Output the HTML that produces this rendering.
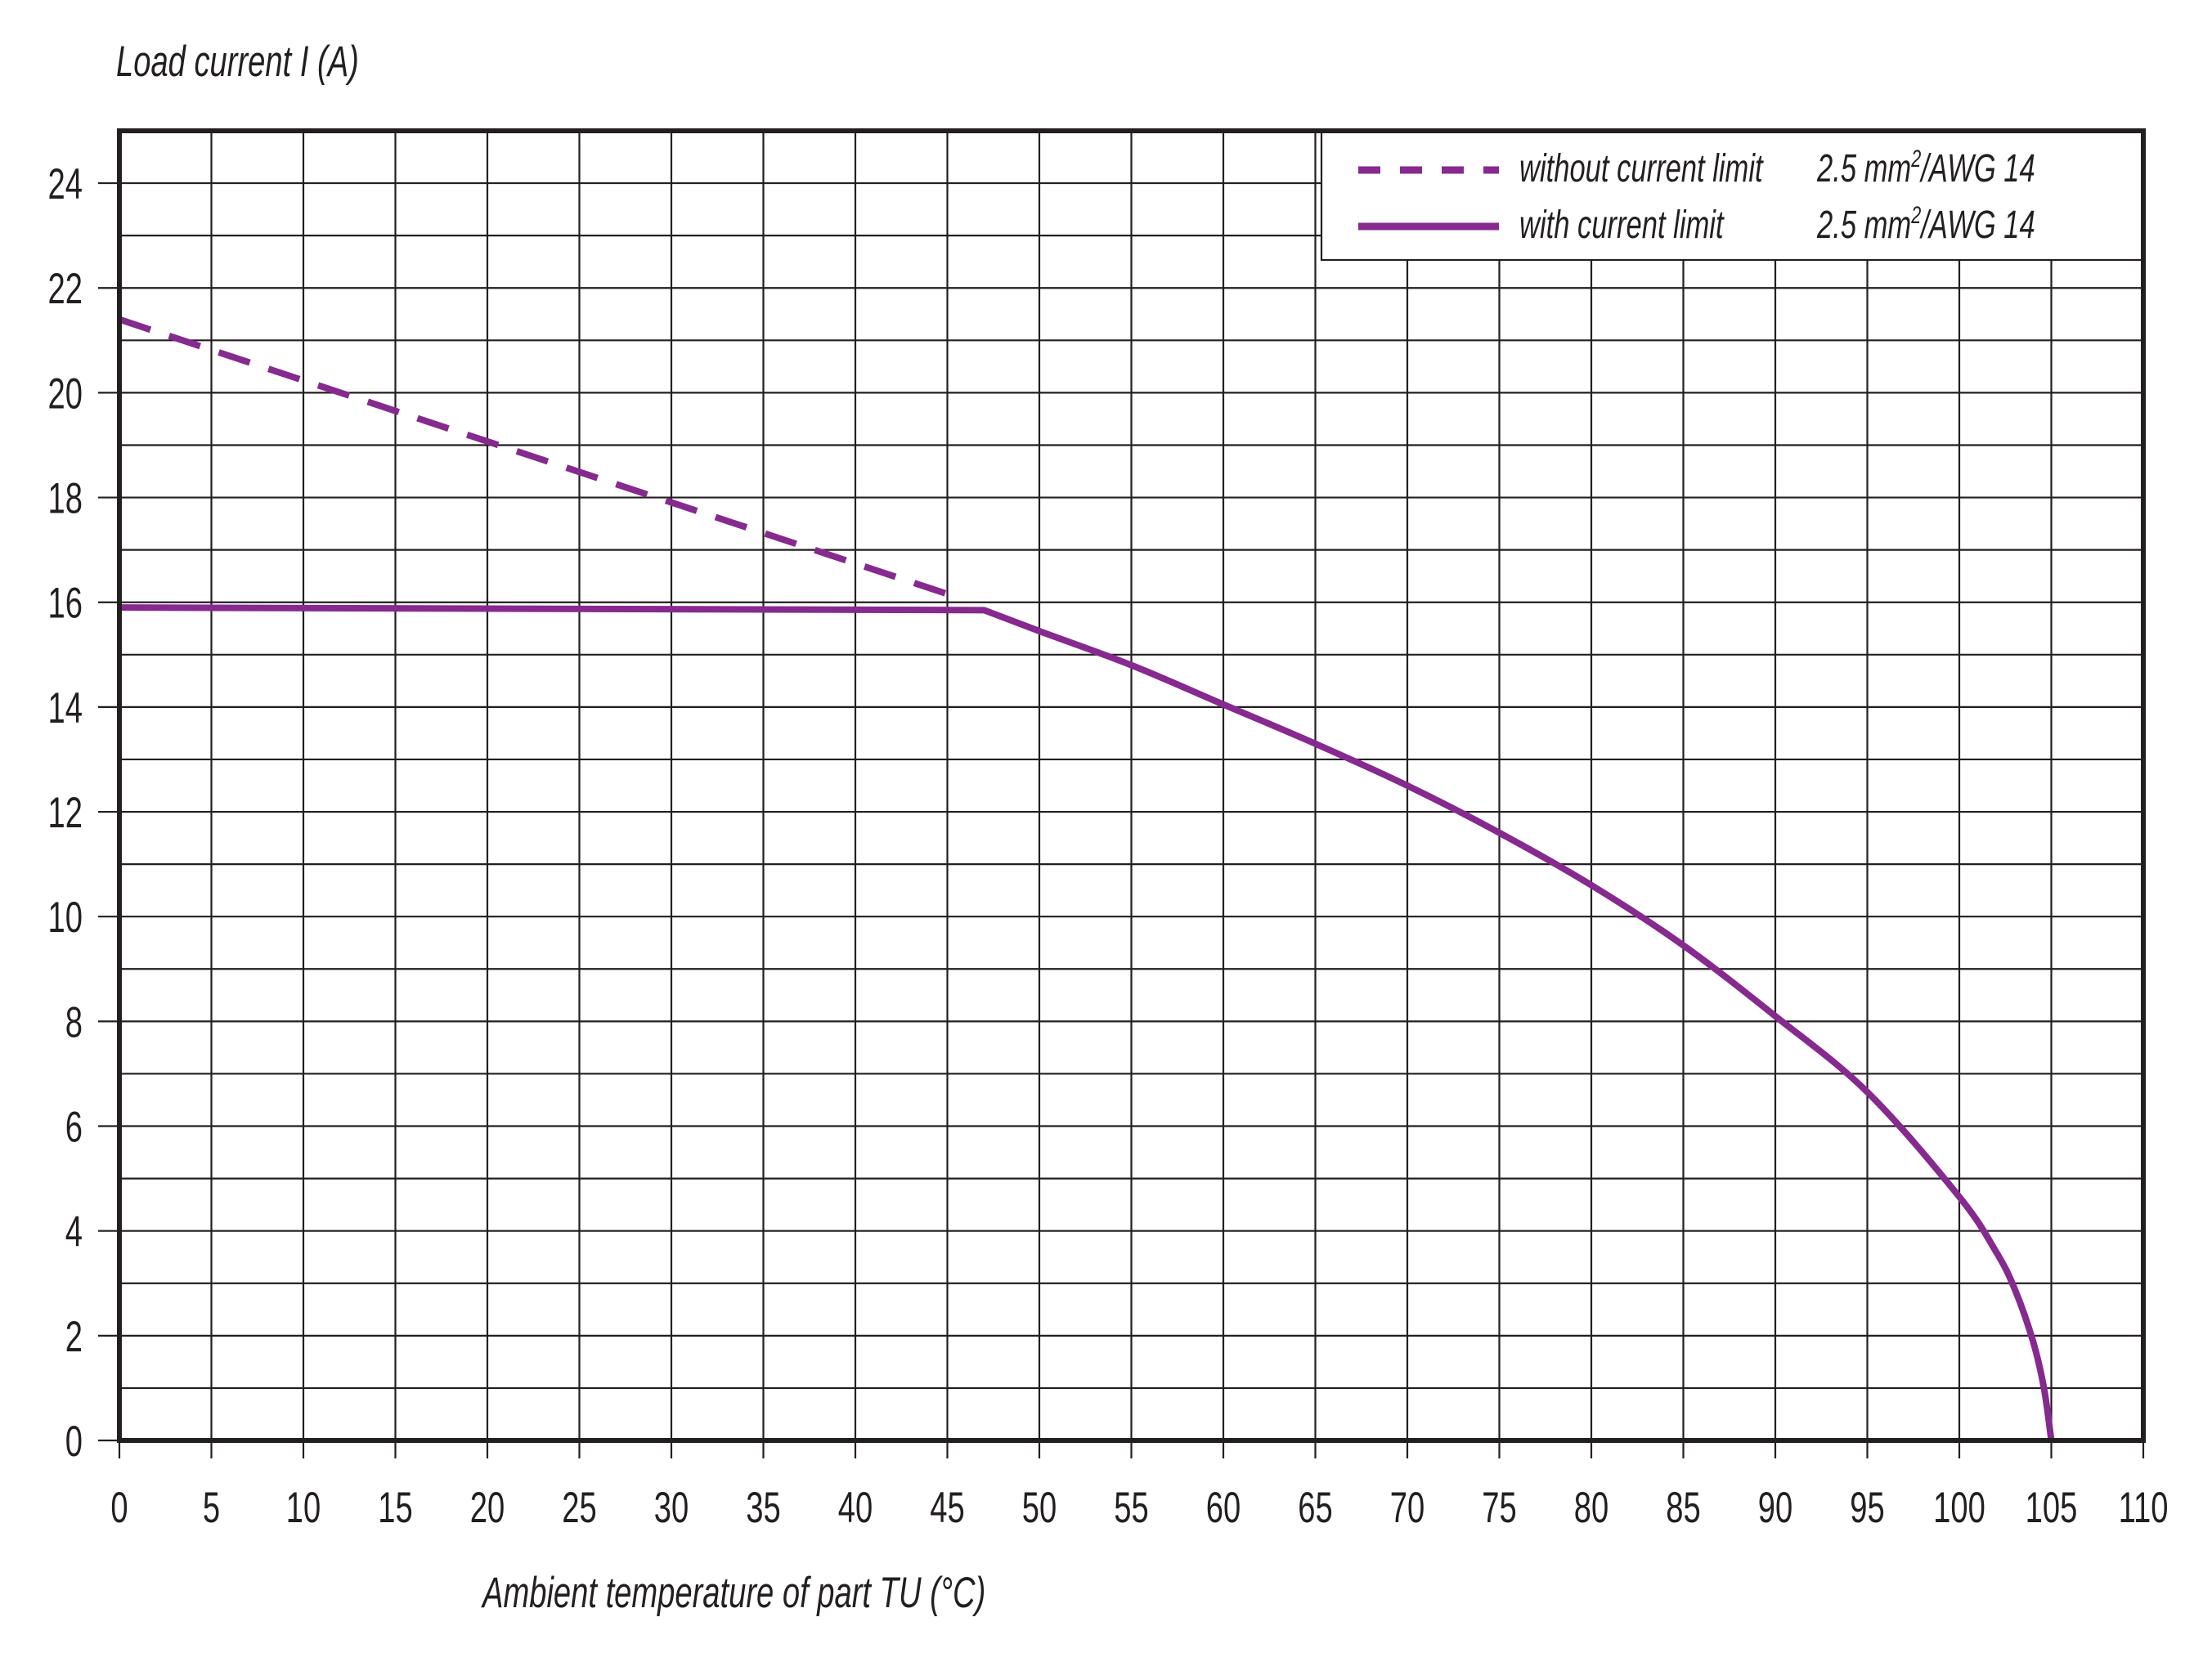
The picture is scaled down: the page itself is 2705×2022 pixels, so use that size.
<!DOCTYPE html>
<html><head><meta charset="utf-8"><style>
html,body{margin:0;padding:0;background:#fff;}
svg{display:block;}
text{font-family:"Liberation Sans",sans-serif;fill:#231f20;}
</style></head><body>
<svg id="chart" width="2705" height="2022" viewBox="0 0 2705 2022" xmlns="http://www.w3.org/2000/svg">
<g id="grid"></g>
<g id="series"></g>
<g id="frame"></g>
<g id="labels"></g>
</svg>
<script>
const xTicks = [0,5,10,15,20,25,30,35,40,45,50,55,60,65,70,75,80,85,90,95,100,105,110];
const yTicks = [0,2,4,6,8,10,12,14,16,18,20,22,24];
const dashedX = [0,45.5];
const dashedY = [21.4,16.1];
const solidX = [0,47,50,55,60,65,70,75,80,85,90,95,100,102,103,104,104.6,105];
const solidY = [15.9,15.85,15.45,14.8,14.05,13.3,12.5,11.6,10.6,9.45,8.1,6.65,4.65,3.6,2.9,1.9,1.0,0];

const X0=146, X1=2621, Y0=1762, Y1=160, XMAX=110, YMAX=25;
const sx = v => X0 + (X1-X0)*v/XMAX;
const sy = v => Y0 - (Y0-Y1)*v/YMAX;
const NS="http://www.w3.org/2000/svg";
function mk(tag, attrs, parent){const e=document.createElementNS(NS,tag);for(const k in attrs)e.setAttribute(k,attrs[k]);parent.appendChild(e);return e;}
const grid=document.getElementById('grid'), series=document.getElementById('series'), frame=document.getElementById('frame'), labels=document.getElementById('labels');

xTicks.forEach(v=>{
  const x=sx(v);
  const l=mk('line',{x1:x,y1:Y1,x2:x,y2:Y0+22,stroke:'#231f20','stroke-width':2.2},grid);
  
  
  const t=mk('text',{transform:`translate(${x},1862) scale(0.72,1)`,'font-size':53,'text-anchor':'middle'},labels);
  t.textContent=v;
  
  
});
for(let v=0; v<=YMAX; v++){
  const y=sy(v);
  const major = yTicks.indexOf(v)>=0;
  const l=mk('line',{x1: major? X0-26 : X0,y1:y,x2:X1,y2:y,stroke:'#231f20','stroke-width':2.2},grid);
  
  
}
yTicks.forEach(v=>{
  const t=mk('text',{transform:`translate(101,${sy(v)+19}) scale(0.72,1)`,'font-size':53,'text-anchor':'end'},labels);
  t.textContent=v;
  
  
});

const lb=mk('rect',{x:1616,y:Y1,width:X1-1616,height:158,fill:'#fff',stroke:'#231f20','stroke-width':2.2},series);



const col='#862a8f';
const dp=dashedX.map((x,i)=>`${i?'L':'M'}${sx(x)},${sy(dashedY[i])}`).join(' ');
const d=mk('path',{d:dp,fill:'none',stroke:col,'stroke-width':8,'stroke-dasharray':'40 24'},series);



const pts=solidX.map((x,i)=>[sx(x),sy(solidY[i])]);
let sp=`M${pts[0][0]},${pts[0][1]} L${pts[1][0]},${pts[1][1]}`;
for(let i=1;i<pts.length-1;i++){
  const p0=(i===1)?pts[1]:pts[i-1],p1=pts[i],p2=pts[i+1],p3=pts[Math.min(i+2,pts.length-1)];
  const c1=[p1[0]+(p2[0]-p0[0])/6,p1[1]+(p2[1]-p0[1])/6];
  const c2=[p2[0]-(p3[0]-p1[0])/6,p2[1]-(p3[1]-p1[1])/6];
  sp+=` C${c1[0]},${c1[1]} ${c2[0]},${c2[1]} ${p2[0]},${p2[1]}`;
}
const s=mk('path',{d:sp,fill:'none',stroke:col,'stroke-width':8,'stroke-linejoin':'round'},series);



const fr=mk('rect',{x:X0,y:Y1,width:X1-X0,height:Y0-Y1,fill:'none',stroke:'#231f20','stroke-width':6},frame);



const l1=mk('line',{x1:1661,y1:208,x2:1833,y2:208,stroke:col,'stroke-width':9,'stroke-dasharray':'27 24'},series);


const l2=mk('line',{x1:1661,y1:277,x2:1833,y2:277,stroke:col,'stroke-width':9},series);


function txt(str,x,y,name,italic,size){
  const t=mk('text',{transform:`translate(${x},${y}) scale(0.72,1)`,'font-size':size||48,'font-style':italic?'italic':'normal'},labels);
  t.innerHTML=str;
  
  
}
txt('without current limit',1858,222,'legend-label-without',true);
txt('2.5 mm<tspan dy="-18" font-size="30">2</tspan><tspan dy="18">/AWG 14</tspan>',2222,222,'legend-spec-without',true);
txt('with current limit',1858,291,'legend-label-with',true);
txt('2.5 mm<tspan dy="-18" font-size="30">2</tspan><tspan dy="18">/AWG 14</tspan>',2222,291,'legend-spec-with',true);
txt('Load current I (A)',142,93,'y-axis-title',true,53);
txt('Ambient temperature of part TU (°C)',590,1966,'x-axis-title',true,53);
</script>
</body></html>
